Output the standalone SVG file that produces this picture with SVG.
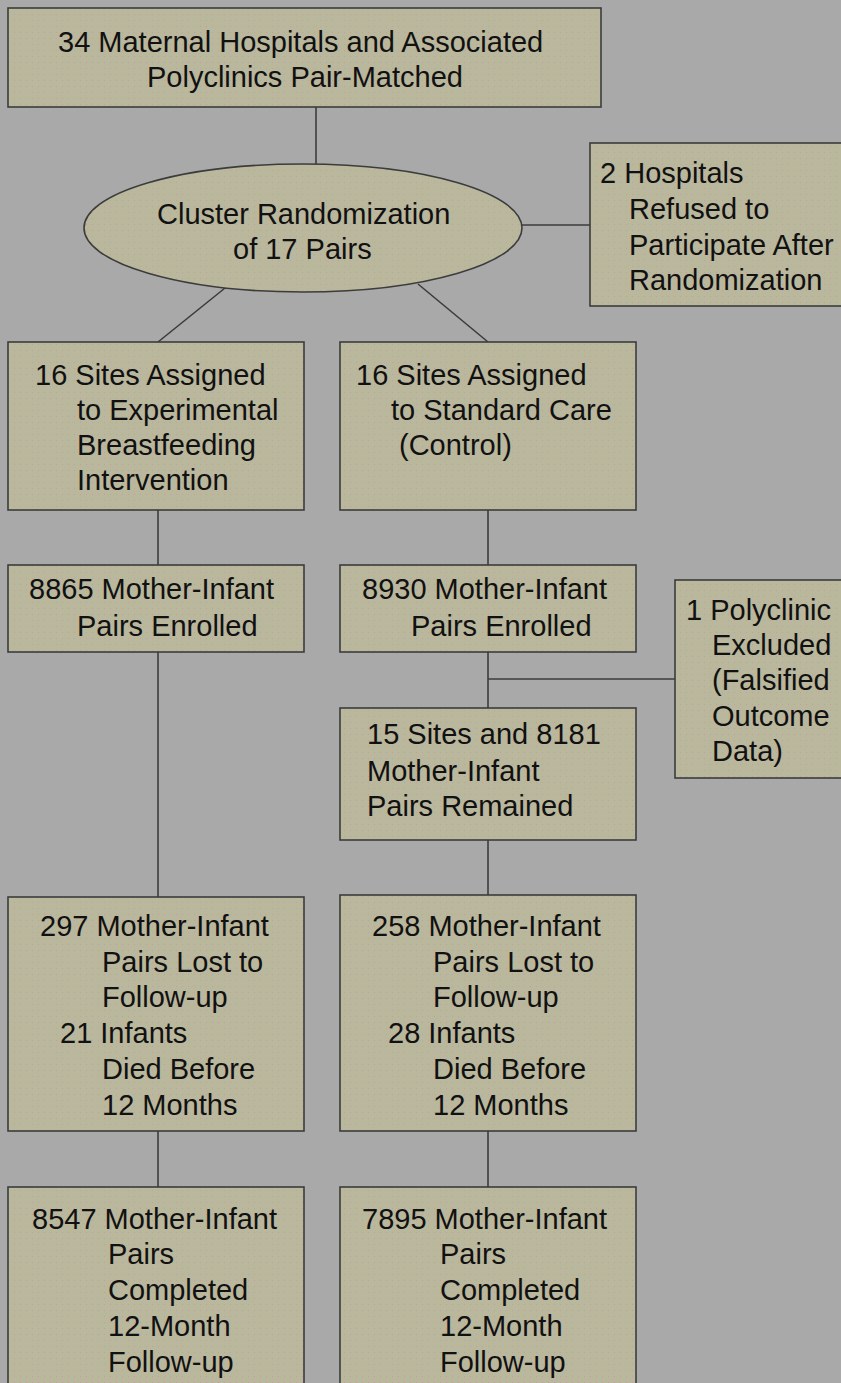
<svg xmlns="http://www.w3.org/2000/svg" width="841" height="1383" viewBox="0 0 841 1383">
<defs>
<pattern id="dots" x="0" y="0" width="6" height="6" patternUnits="userSpaceOnUse">
<rect width="6" height="6" fill="#b9b79c"/>
<rect x="2" y="2" width="1" height="1" fill="#c99aa8"/>
</pattern>
<style>
.box{fill:url(#dots);stroke:#3c3c3c;stroke-width:1.6}
.ln{stroke:#3c3c3c;stroke-width:1.6;fill:none}
text{font-family:"Liberation Sans",Arial,sans-serif;font-size:29px;fill:#111}
</style>
</defs>
<rect width="841" height="1383" fill="#a9a9a9"/>
<g id="connectors">
<line class="ln" x1="316" y1="107" x2="316" y2="164"/>
<line class="ln" x1="522" y1="225" x2="590" y2="225"/>
<line class="ln" x1="230" y1="284" x2="158" y2="342"/>
<line class="ln" x1="418" y1="284" x2="488" y2="342"/>
<line class="ln" x1="158" y1="510" x2="158" y2="565"/>
<line class="ln" x1="488" y1="510" x2="488" y2="565"/>
<line class="ln" x1="158" y1="652" x2="158" y2="897"/>
<line class="ln" x1="488" y1="652" x2="488" y2="708"/>
<line class="ln" x1="488" y1="679" x2="675" y2="679"/>
<line class="ln" x1="488" y1="840" x2="488" y2="895"/>
<line class="ln" x1="158" y1="1131" x2="158" y2="1187"/>
<line class="ln" x1="488" y1="1131" x2="488" y2="1187"/>
</g>
<g id="top">
<rect class="box" x="8" y="8" width="593" height="99"/>
<text x="58" y="52">34 Maternal Hospitals and Associated</text>
<text x="147" y="87">Polyclinics Pair-Matched</text>
</g>
<g id="randomization">
<ellipse class="box" cx="303" cy="228" rx="219" ry="64"/>
<text x="157" y="224">Cluster Randomization</text>
<text x="233" y="259">of 17 Pairs</text>
</g>
<g id="refused">
<rect class="box" x="590" y="143" width="260" height="163"/>
<text x="600" y="183">2 Hospitals</text>
<text x="629" y="219">Refused to</text>
<text x="629" y="255">Participate After</text>
<text x="629" y="290">Randomization</text>
</g>
<g id="exp-sites">
<rect class="box" x="8" y="342" width="296" height="168"/>
<text x="35" y="385">16 Sites Assigned</text>
<text x="77" y="420">to Experimental</text>
<text x="77" y="455">Breastfeeding</text>
<text x="77" y="490">Intervention</text>
</g>
<g id="ctl-sites">
<rect class="box" x="340" y="342" width="296" height="168"/>
<text x="356" y="385">16 Sites Assigned</text>
<text x="391" y="420">to Standard Care</text>
<text x="399" y="455">(Control)</text>
</g>
<g id="exp-enrolled">
<rect class="box" x="8" y="565" width="296" height="87"/>
<text x="29" y="599">8865 Mother-Infant</text>
<text x="77" y="636">Pairs Enrolled</text>
</g>
<g id="ctl-enrolled">
<rect class="box" x="340" y="565" width="296" height="87"/>
<text x="362" y="599">8930 Mother-Infant</text>
<text x="411" y="636">Pairs Enrolled</text>
</g>
<g id="excluded">
<rect class="box" x="675" y="580" width="175" height="198"/>
<text x="686" y="620">1 Polyclinic</text>
<text x="712" y="655">Excluded</text>
<text x="712" y="690">(Falsified</text>
<text x="712" y="726">Outcome</text>
<text x="712" y="761">Data)</text>
</g>
<g id="ctl-remained">
<rect class="box" x="340" y="708" width="296" height="132"/>
<text x="367" y="744">15 Sites and 8181</text>
<text x="367" y="781">Mother-Infant</text>
<text x="367" y="816">Pairs Remained</text>
</g>
<g id="exp-lost">
<rect class="box" x="8" y="897" width="296" height="234"/>
<text x="40" y="936">297 Mother-Infant</text>
<text x="102" y="972">Pairs Lost to</text>
<text x="102" y="1007">Follow-up</text>
<text x="60" y="1043">21 Infants</text>
<text x="102" y="1079">Died Before</text>
<text x="102" y="1115">12 Months</text>
</g>
<g id="ctl-lost">
<rect class="box" x="340" y="895" width="296" height="236"/>
<text x="372" y="936">258 Mother-Infant</text>
<text x="433" y="972">Pairs Lost to</text>
<text x="433" y="1007">Follow-up</text>
<text x="388" y="1043">28 Infants</text>
<text x="433" y="1079">Died Before</text>
<text x="433" y="1115">12 Months</text>
</g>
<g id="exp-completed">
<rect class="box" x="8" y="1187" width="296" height="210"/>
<text x="32" y="1229">8547 Mother-Infant</text>
<text x="108" y="1264">Pairs</text>
<text x="108" y="1300">Completed</text>
<text x="108" y="1336">12-Month</text>
<text x="108" y="1372">Follow-up</text>
</g>
<g id="ctl-completed">
<rect class="box" x="340" y="1187" width="296" height="210"/>
<text x="362" y="1229">7895 Mother-Infant</text>
<text x="440" y="1264">Pairs</text>
<text x="440" y="1300">Completed</text>
<text x="440" y="1336">12-Month</text>
<text x="440" y="1372">Follow-up</text>
</g>
</svg>
